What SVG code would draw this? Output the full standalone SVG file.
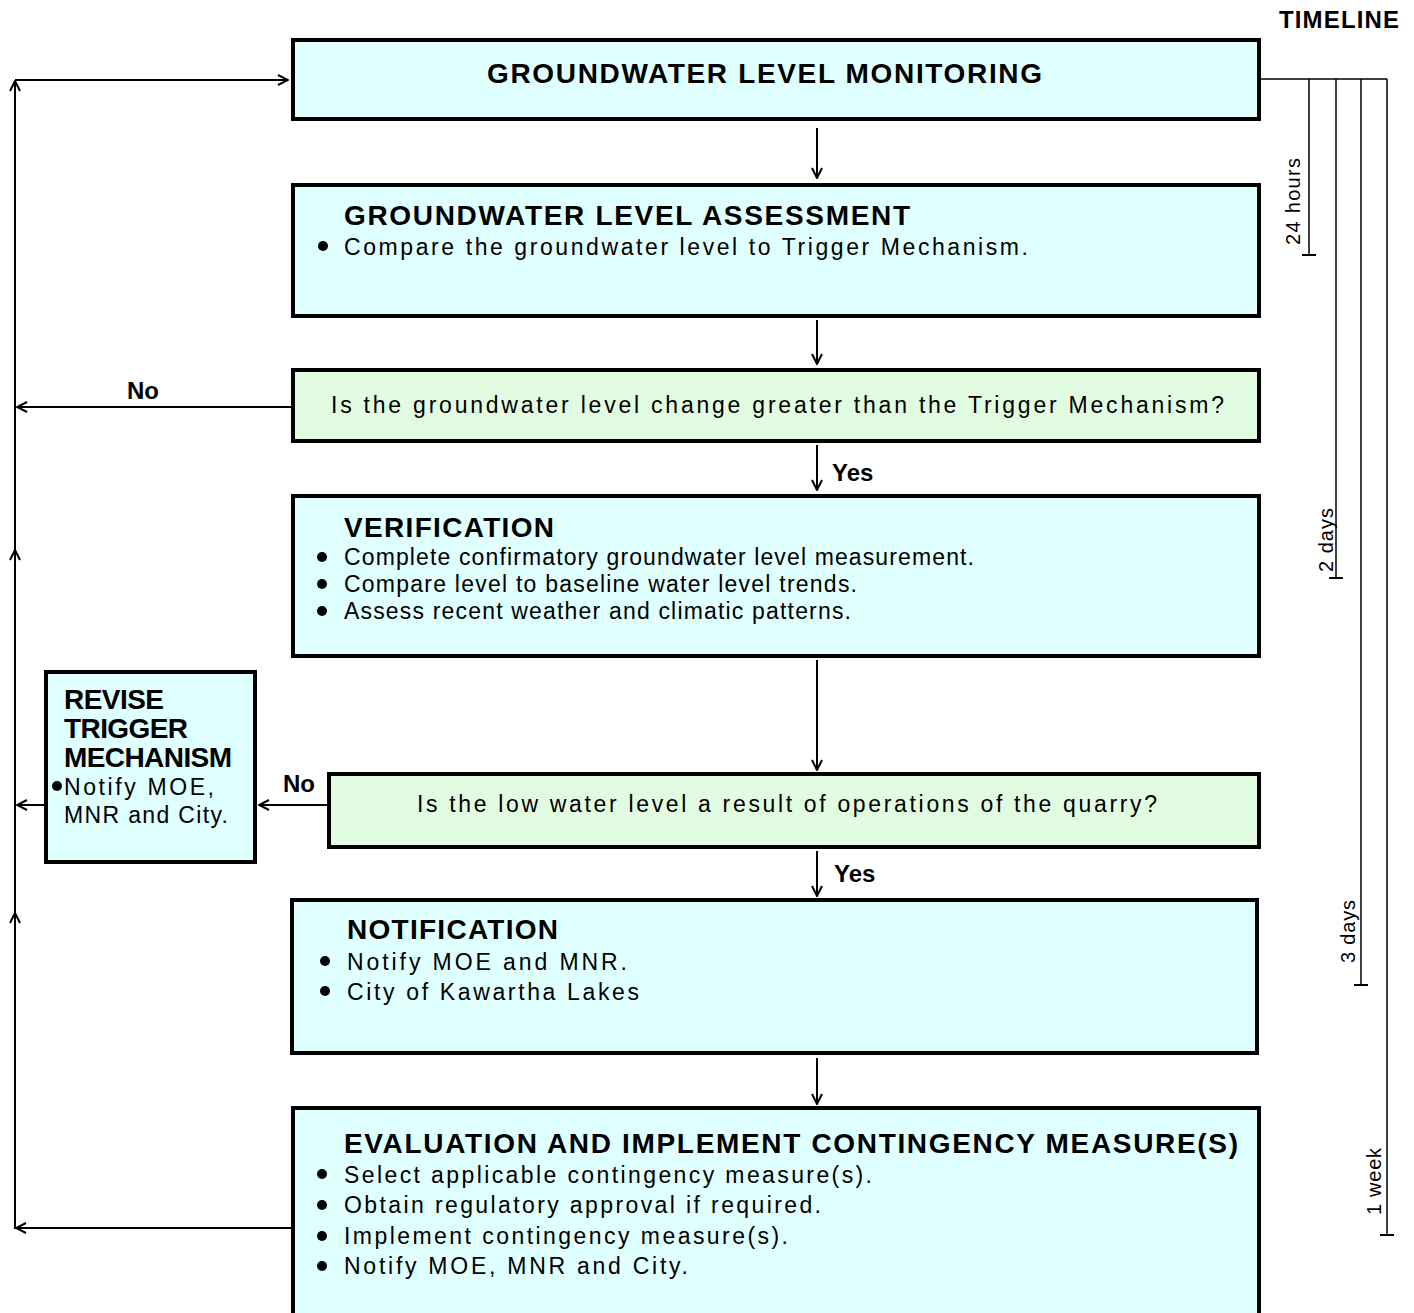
<svg xmlns="http://www.w3.org/2000/svg" width="1414" height="1313" viewBox="0 0 1414 1313">
<defs>
<style>
.box{fill:#e0ffff;stroke:#000;stroke-width:4}
.q{fill:#e2fce2;stroke:#000;stroke-width:4}
.h{font-family:"Liberation Sans",Arial,sans-serif;font-weight:bold;font-size:28px;fill:#000}
.t{font-family:"Liberation Sans",Arial,sans-serif;font-size:23px;fill:#000}
.lb{font-family:"Liberation Sans",Arial,sans-serif;font-weight:bold;font-size:24px;fill:#000}
.tl{font-family:"Liberation Sans",Arial,sans-serif;font-size:20px;fill:#000}
.ln{stroke:#000;stroke-width:2;fill:none}
.thin{stroke:#000;stroke-width:1.5;fill:none}
</style>
<marker id="ah" viewBox="0 0 12 12" refX="11" refY="6" markerWidth="12" markerHeight="12" markerUnits="userSpaceOnUse" orient="auto">
<path d="M1,1 L11,6 L1,11" fill="none" stroke="#000" stroke-width="2"/>
</marker>
</defs>
<rect width="1414" height="1313" fill="#fff"/>

<g id="connectors">
<path class="ln" d="M817,128 V178" marker-end="url(#ah)"/>
<path class="ln" d="M817,320 V364" marker-end="url(#ah)"/>
<path class="ln" d="M817,445 V490" marker-end="url(#ah)"/>
<path class="ln" d="M817,660 V770" marker-end="url(#ah)"/>
<path class="ln" d="M817,851 V896" marker-end="url(#ah)"/>
<path class="ln" d="M817,1058 V1104" marker-end="url(#ah)"/>
<path class="ln" d="M291,407 H17" marker-end="url(#ah)"/>
<path class="ln" d="M327,805 H259" marker-end="url(#ah)"/>
<path class="ln" d="M44,805 H17" marker-end="url(#ah)"/>
<path class="ln" d="M291,1228 H16" marker-end="url(#ah)"/>
<path class="ln" d="M15,1229 V913" marker-end="url(#ah)"/>
<path class="ln" d="M15,913 V550" marker-end="url(#ah)"/>
<path class="ln" d="M15,550 V81" marker-end="url(#ah)"/>
<path class="ln" d="M15,80 H288" marker-end="url(#ah)"/>
<text class="lb" x="127" y="399">No</text>
<text class="lb" x="283" y="792">No</text>
<text class="lb" x="832" y="481">Yes</text>
<text class="lb" x="834" y="882">Yes</text>
</g>

<g id="timeline">
<text class="lb" x="1279" y="28" font-size="20" textLength="120" lengthAdjust="spacing">TIMELINE</text>
<path class="thin" d="M1261,79 H1387 M1309,79 V255 M1336,79 V578 M1361,79 V985 M1387,79 V1235"/>
<path class="ln" d="M1302,255 H1316 M1329,578 H1343 M1354,985 H1368 M1380,1235 H1394"/>
<text class="tl" transform="translate(1300,245) rotate(-90)" textLength="87" lengthAdjust="spacing">24 hours</text>
<text class="tl" transform="translate(1333,572) rotate(-90)" textLength="64" lengthAdjust="spacing">2 days</text>
<text class="tl" transform="translate(1355,963) rotate(-90)" textLength="63" lengthAdjust="spacing">3 days</text>
<text class="tl" transform="translate(1381,1215) rotate(-90)" textLength="67" lengthAdjust="spacing">1 week</text>
</g>

<g id="monitoring">
<rect class="box" x="293" y="40" width="966" height="79"/>
<text class="h" x="487" y="83" font-size="26" textLength="555" lengthAdjust="spacing">GROUNDWATER LEVEL MONITORING</text>
</g>

<g id="assessment">
<rect class="box" x="293" y="185" width="966" height="131"/>
<text class="h" x="344" y="225" textLength="566" lengthAdjust="spacing">GROUNDWATER LEVEL ASSESSMENT</text>
<circle cx="323" cy="246" r="5"/>
<text class="t" x="344" y="255" textLength="684" lengthAdjust="spacing">Compare the groundwater level to Trigger Mechanism.</text>
</g>

<g id="question1">
<rect class="q" x="293" y="370" width="966" height="71"/>
<text class="t" x="331" y="413" textLength="893" lengthAdjust="spacing">Is the groundwater level change greater than the Trigger Mechanism?</text>
</g>

<g id="verification">
<rect class="box" x="293" y="496" width="966" height="160"/>
<text class="h" x="344" y="537" textLength="210" lengthAdjust="spacing">VERIFICATION</text>
<circle cx="322" cy="557" r="5"/>
<text class="t" x="344" y="565" textLength="630" lengthAdjust="spacing">Complete confirmatory groundwater level measurement.</text>
<circle cx="322" cy="584" r="5"/>
<text class="t" x="344" y="592" textLength="513" lengthAdjust="spacing">Compare level to baseline water level trends.</text>
<circle cx="322" cy="611" r="5"/>
<text class="t" x="344" y="619" textLength="507" lengthAdjust="spacing">Assess recent weather and climatic patterns.</text>
</g>

<g id="revise">
<rect class="box" x="46" y="672" width="209" height="190"/>
<text class="h" x="64" y="709" font-size="25" textLength="100" lengthAdjust="spacing">REVISE</text>
<text class="h" x="64" y="738" font-size="25" textLength="124" lengthAdjust="spacing">TRIGGER</text>
<text class="h" x="64" y="767" font-size="25" textLength="168" lengthAdjust="spacing">MECHANISM</text>
<circle cx="57" cy="786" r="5"/>
<text class="t" x="64" y="795" textLength="150" lengthAdjust="spacing">Notify MOE,</text>
<text class="t" x="64" y="823" textLength="164" lengthAdjust="spacing">MNR and City.</text>
</g>

<g id="question2">
<rect class="q" x="329" y="774" width="930" height="73"/>
<text class="t" x="417" y="812" textLength="740" lengthAdjust="spacing">Is the low water level a result of operations of the quarry?</text>
</g>

<g id="notification">
<rect class="box" x="292" y="900" width="965" height="153"/>
<text class="h" x="347" y="939" textLength="211" lengthAdjust="spacing">NOTIFICATION</text>
<circle cx="325" cy="961" r="5"/>
<text class="t" x="347" y="970" textLength="280" lengthAdjust="spacing">Notify MOE and MNR.</text>
<circle cx="325" cy="991" r="5"/>
<text class="t" x="347" y="1000" textLength="292" lengthAdjust="spacing">City of Kawartha Lakes</text>
</g>

<g id="evaluation">
<rect class="box" x="293" y="1108" width="966" height="215"/>
<text class="h" x="344" y="1153" textLength="894" lengthAdjust="spacing">EVALUATION AND IMPLEMENT CONTINGENCY MEASURE(S)</text>
<circle cx="322" cy="1174" r="5"/>
<text class="t" x="344" y="1183" textLength="528" lengthAdjust="spacing">Select applicable contingency measure(s).</text>
<circle cx="322" cy="1205" r="5"/>
<text class="t" x="344" y="1213" textLength="477" lengthAdjust="spacing">Obtain regulatory approval if required.</text>
<circle cx="322" cy="1236" r="5"/>
<text class="t" x="344" y="1244" textLength="444" lengthAdjust="spacing">Implement contingency measure(s).</text>
<circle cx="322" cy="1266" r="5"/>
<text class="t" x="344" y="1274" textLength="344" lengthAdjust="spacing">Notify MOE, MNR and City.</text>
</g>
</svg>
